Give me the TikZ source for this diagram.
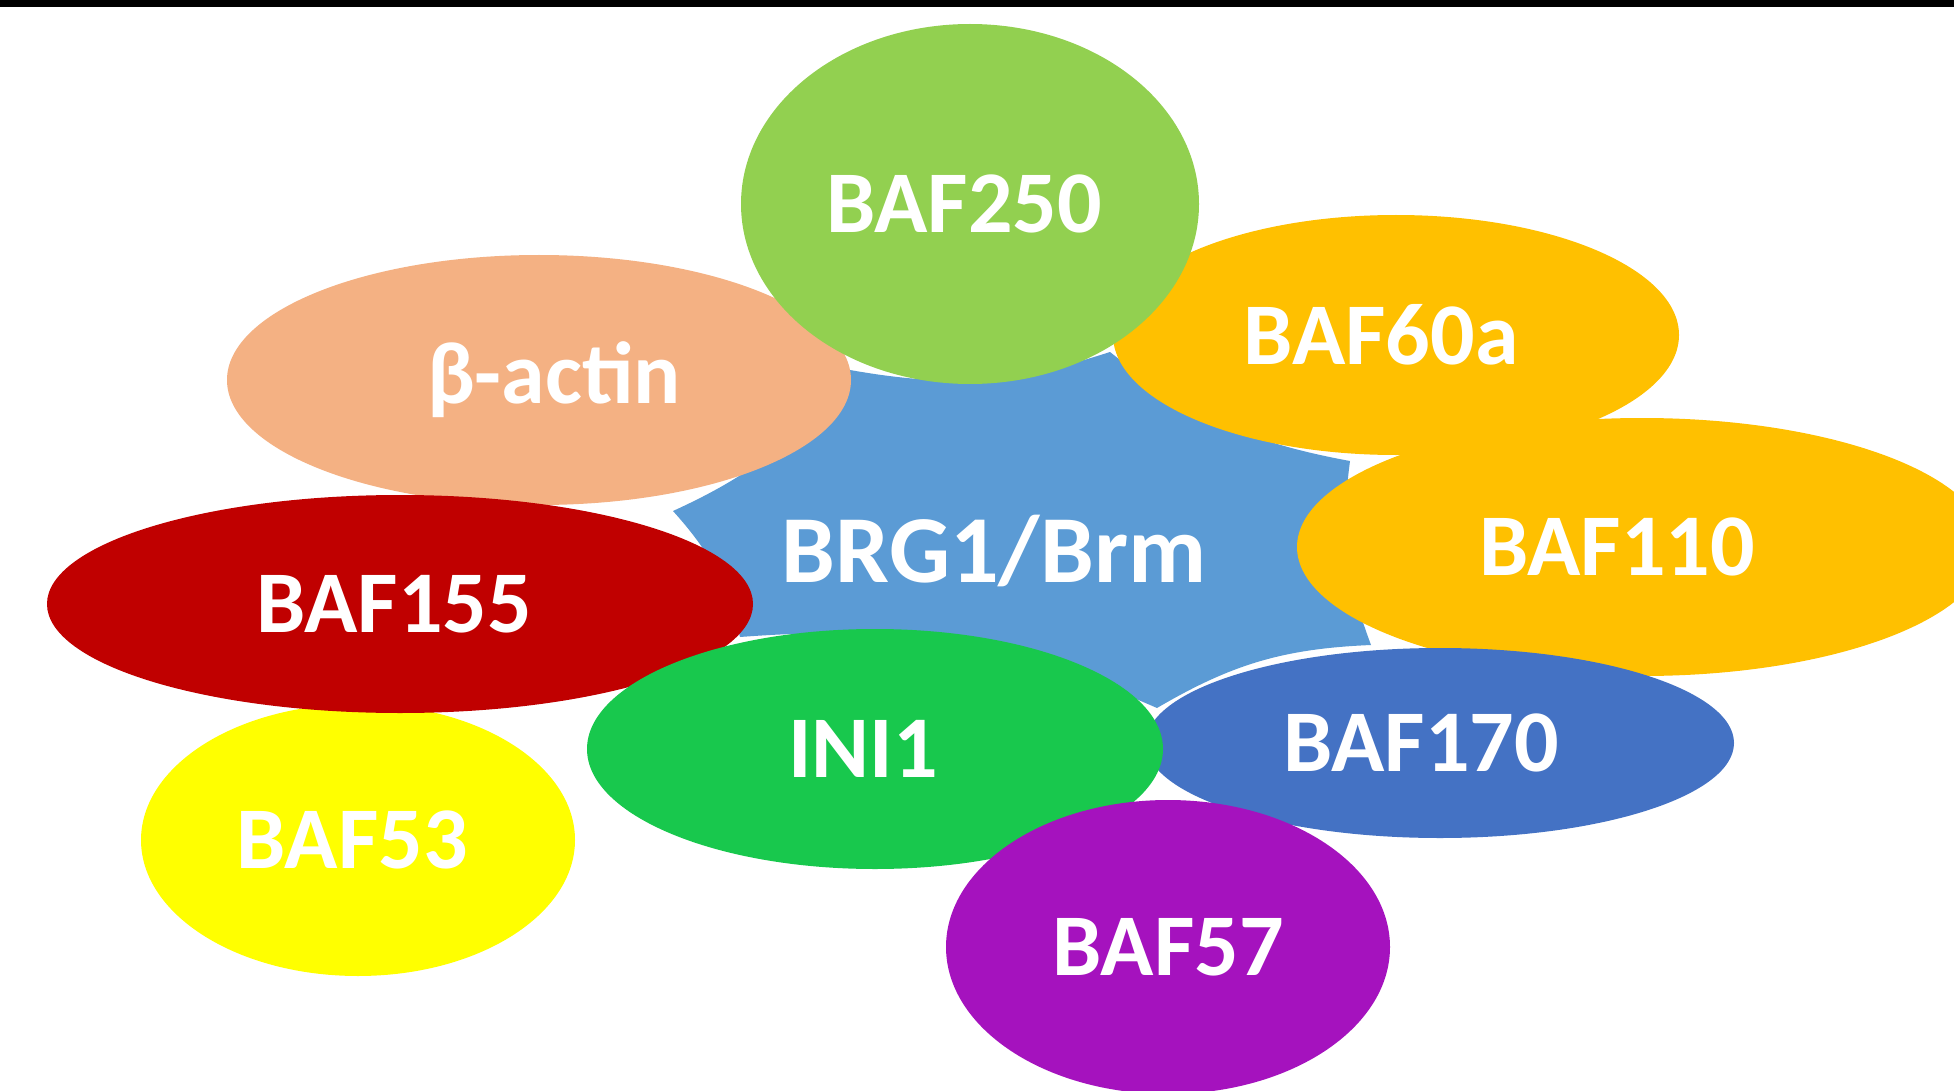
\documentclass[tikz,border=0pt]{standalone}
\usepackage{fontspec}
\setmainfont{Carlito}
\usetikzlibrary{shapes.geometric}

\definecolor{brgblue}{HTML}{5B9BD5}
\definecolor{limegreen}{HTML}{92D050}
\definecolor{peach}{HTML}{F4B183}
\definecolor{amber}{HTML}{FFC000}
\definecolor{darkred}{HTML}{C00000}
\definecolor{brightgreen}{HTML}{18C84D}
\definecolor{steelblue}{HTML}{4472C4}
\definecolor{lemon}{HTML}{FFFF00}
\definecolor{violet}{HTML}{A512BE}

\begin{document}
\begin{tikzpicture}[
  x=0.5pt, y=-0.5pt,
  lbl/.style  = {text=white, font=\fontsize{44}{44}\selectfont\bfseries},
  blob/.style = {ellipse, inner sep=0pt},
  core/.style = {fill=brgblue}
]

  % page and top rule
  \fill[white] (0,0) rectangle (1954,1091);
  \useasboundingbox (0,0) rectangle (1954,1091);
  \fill[black] (0,0) rectangle (1954,7);

  % corners of the central subunit
  \coordinate (c1) at (850,370);
  \coordinate (c2) at (1110,352);
  \coordinate (c3) at (1350,461);
  \coordinate (c4) at (1371,645);
  \coordinate (c5) at (1157,708);
  \coordinate (c6) at (740,637);
  \coordinate (c7) at (673,511);
  \fill[core] (c1) to[bend right=14] (c2) to[bend right=14] (c3)
    to[bend right=14] (c4) to[bend right=14] (c5) to[bend right=14] (c6)
    to[bend right=14] (c7) to[bend right=14] (c1) -- cycle;
  \node[lbl, font=\fontsize{48}{48}\selectfont\bfseries] (brg) at (994,551) {BRG1/Brm};

  % surrounding subunits, back to front
  \node[blob, fill=peach, minimum width=312pt, minimum height=125pt,
    label={[lbl, xshift=7.5pt]center:β-actin}] (actin) at (539,380) {};
  \node[blob, fill=amber, minimum width=283pt, minimum height=120pt,
    label={[lbl, xshift=-7.5pt]center:BAF60a}] (baf60a) at (1396,335) {};
  \node[blob, fill=limegreen, minimum width=229pt, minimum height=180pt,
    label={[lbl, xshift=-3pt]center:BAF250}] (baf250) at (970,204) {};
  \node[blob, fill=amber, minimum width=345pt, minimum height=129pt,
    label={[lbl, xshift=-12.5pt]center:BAF110}] (baf110) at (1642,547) {};
  \node[blob, fill=lemon, minimum width=217pt, minimum height=136pt,
    label={[lbl, xshift=-3pt]center:BAF53}] (baf53) at (358,840) {};
  \node[blob, fill=darkred, minimum width=353pt, minimum height=109pt,
    label={[lbl, xshift=-3pt]center:BAF155}] (baf155) at (400,604) {};
  \node[blob, fill=steelblue, minimum width=294pt, minimum height=95pt,
    label={[lbl, xshift=-9.5pt]center:BAF170}] (baf170) at (1440,743) {};
  \node[blob, fill=brightgreen, minimum width=288pt, minimum height=120pt,
    label={[lbl, xshift=-6pt]center:INI1}] (ini1) at (875,749) {};
  \node[blob, fill=violet, minimum width=222pt, minimum height=147pt,
    label={[lbl]center:BAF57}] (baf57) at (1168,947) {};

\end{tikzpicture}
\end{document}
